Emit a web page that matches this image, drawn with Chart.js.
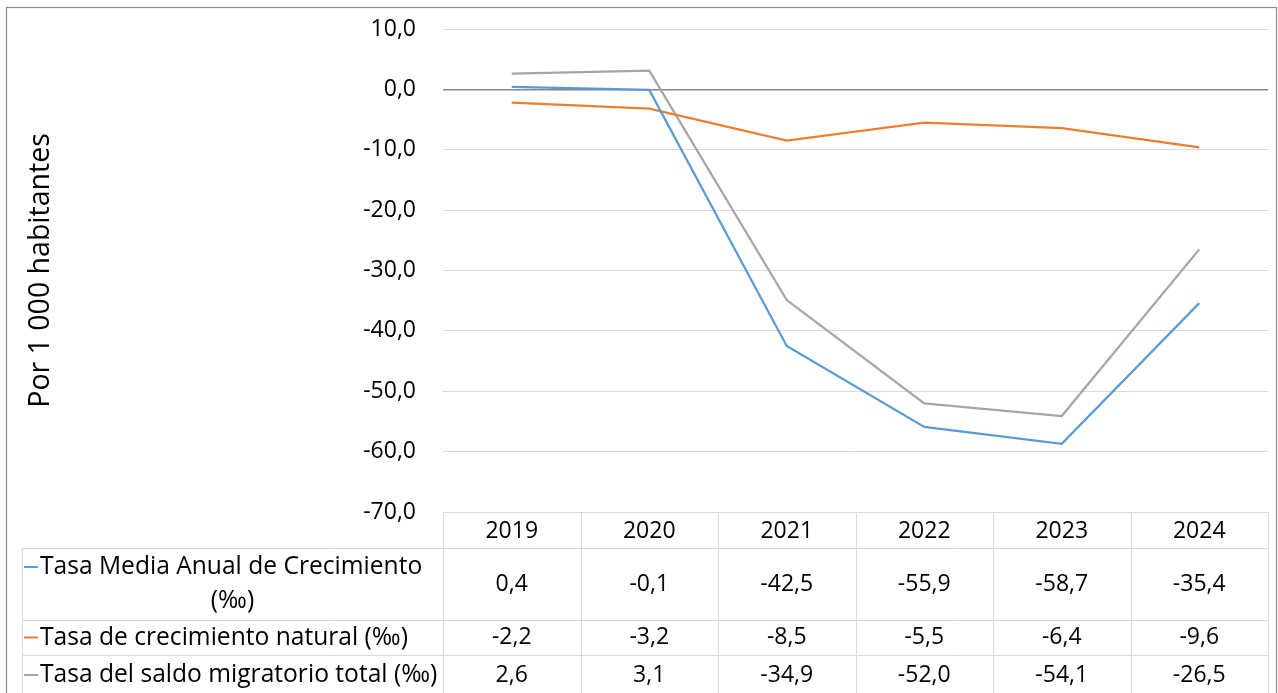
<!DOCTYPE html>
<html>
<head>
<meta charset="utf-8">
<script src="https://cdn.jsdelivr.net/npm/chart.js@4"></script>
<style>
  html, body { margin: 0; padding: 0; background: #fff; }
  canvas { display: block; }
</style>
</head>
<body>
<canvas id="tasas" width="1278" height="693"></canvas>
<script>
const years = ['2019', '2020', '2021', '2022', '2023', '2024'];
const tasaMedia = [0.4, -0.1, -42.5, -55.9, -58.7, -35.4];
const tasaNatural = [-2.2, -3.2, -8.5, -5.5, -6.4, -9.6];
const tasaMigratoria = [2.6, 3.1, -34.9, -52.0, -54.1, -26.5];
const seriesLabels = [
	['Tasa Media Anual de Crecimiento', '(‰)'],
	['Tasa de crecimiento natural (‰)'],
	['Tasa del saldo migratorio total (‰)']
];
const seriesColors = ['#5b9bd5', '#ed7d31', '#a5a5a5'];

const FONT = "'Open Sans', sans-serif";
const fmt = v => v.toFixed(1).replace('.', ',');

// tabla de datos debajo del gráfico, al estilo Excel
const dataTable = {
	id: 'dataTable',
	afterDraw(chart) {
		const ctx = chart.ctx;
		const area = chart.chartArea;
		const xs = chart.scales.x;
		const colW = (area.right - area.left) / years.length;
		const top = area.bottom;
		const rowH = [36, 72, 35, 40];
		const labelLeft = 22;
		let y = [top];
		rowH.forEach(h => y.push(y[y.length - 1] + h));

		ctx.save();
		ctx.strokeStyle = '#d9d9d9';
		ctx.lineWidth = 1;
		ctx.beginPath();
		// horizontales
		ctx.moveTo(area.left, y[0] + 0.5); ctx.lineTo(area.right, y[0] + 0.5);
		for (let i = 1; i < 4; i++) {
			ctx.moveTo(labelLeft, y[i] + 0.5); ctx.lineTo(area.right, y[i] + 0.5);
		}
		// verticales
		ctx.moveTo(labelLeft + 0.5, y[1]); ctx.lineTo(labelLeft + 0.5, y[4]);
		for (let i = 0; i <= years.length; i++) {
			const x = Math.round(area.left + i * colW) + 0.5;
			ctx.moveTo(x, y[0]); ctx.lineTo(x, y[4]);
		}
		ctx.stroke();

		ctx.fillStyle = '#000';
		ctx.textBaseline = 'middle';
		ctx.textAlign = 'center';
		ctx.font = '23px ' + FONT;
		years.forEach((yr, i) => ctx.fillText(yr, xs.getPixelForValue(i), (y[0] + y[1]) / 2 + 1));

		const series = [tasaMedia, tasaNatural, tasaMigratoria];
		series.forEach((vals, r) => {
			const cy = (y[r + 1] + y[r + 2]) / 2;
			vals.forEach((v, i) => ctx.fillText(fmt(v), xs.getPixelForValue(i), cy));
		});

		// etiquetas con clave de leyenda
		ctx.font = '23px ' + FONT;
		const widest = ctx.measureText(seriesLabels[2][0]).width;
		const size = Math.min(25, 23 * 398 / widest);
		ctx.font = size.toFixed(1) + 'px ' + FONT;
		seriesLabels.forEach((lines, r) => {
			const cy = (y[r + 1] + y[r + 2]) / 2;
			const lh = 34;
			const y0 = cy - (lines.length - 1) * lh / 2;
			lines.forEach((txt, k) => {
				const ly = y0 + k * lh;
				if (k === 0) {
					ctx.strokeStyle = seriesColors[r];
					ctx.lineWidth = 2;
					ctx.beginPath();
					ctx.moveTo(24, ly); ctx.lineTo(38, ly);
					ctx.stroke();
					ctx.textAlign = 'left';
					ctx.fillText(txt, 40, ly);
				} else {
					ctx.textAlign = 'center';
					ctx.fillText(txt, (labelLeft + area.left) / 2, ly);
				}
			});
		});

		// marco del gráfico
		ctx.strokeStyle = '#8c8c8c';
		ctx.lineWidth = 1.2;
		ctx.strokeRect(6.5, 7.5, 1270, 700);
		ctx.restore();
	}
};

new Chart(document.getElementById('tasas'), {
	type: 'line',
	data: {
		labels: years,
		datasets: [
			{ label: seriesLabels[0].join(' '), data: tasaMedia, borderColor: seriesColors[0] },
			{ label: seriesLabels[1][0], data: tasaNatural, borderColor: seriesColors[1] },
			{ label: seriesLabels[2][0], data: tasaMigratoria, borderColor: seriesColors[2] }
		]
	},
	options: {
		responsive: false,
		animation: false,
		devicePixelRatio: 1,
		layout: { padding: { left: 0, top: 29, right: 10, bottom: 181 } },
		elements: {
			line: { borderWidth: 2.25, tension: 0, fill: false },
			point: { radius: 0, hoverRadius: 0 }
		},
		plugins: { legend: { display: false }, tooltip: { enabled: false } },
		scales: {
			x: { type: 'category', offset: true, display: false },
			y: {
				min: -70,
				max: 10,
				ticks: {
					stepSize: 10,
					padding: 27,
					color: '#000',
					font: { size: 23, family: FONT },
					callback: v => fmt(v)
				},
				grid: {
					drawTicks: false,
					color: c => c.tick && c.tick.value === 0 ? '#868686' : '#d9d9d9',
					lineWidth: c => c.tick && c.tick.value === 0 ? 1.5 : 1
				},
				border: { display: false },
				title: {
					display: true,
					text: 'Por 1 000 habitantes',
					color: '#000',
					font: { size: 28.5, family: FONT },
					padding: { top: 24, bottom: 0 }
				},
				afterFit(scale) {
					scale.width = 443;
					scale.paddingTop = 0;
					scale.paddingBottom = 0;
				}
			}
		}
	},
	plugins: [dataTable]
});
</script>
</body>
</html>
